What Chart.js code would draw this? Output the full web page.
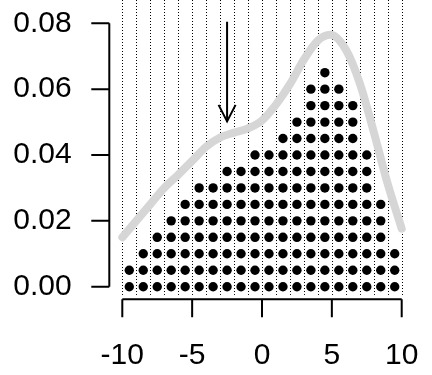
<!DOCTYPE html>
<html>
<head>
<meta charset="utf-8">
<script src="https://cdn.jsdelivr.net/npm/chart.js@4.4.1/dist/chart.umd.min.js"></script>
<style>
  html, body { margin: 0; padding: 0; background: #fff; }
  canvas { display: block; }
</style>
</head>
<body>
<canvas id="dotChart" width="432" height="375"></canvas>
<script>
// ── DATA ──────────────────────────────────────────────────────
// stacked dots, one column per unit bin
const binCenters = [-9.5, -8.5, -7.5, -6.5, -5.5, -4.5, -3.5, -2.5, -1.5, -0.5,
                     0.5,  1.5,  2.5,  3.5,  4.5,  5.5,  6.5,  7.5,  8.5,  9.5];
const binCounts  = [2, 3, 4, 5, 6, 7, 7, 8, 8, 9, 9, 10, 11, 13, 14, 13, 12, 9, 6, 3];
const dotStep = 0.005; // density carried by one dot

// smooth density curve
const densityX = [-10, -9, -8, -7, -6, -5, -4, -3, -2, -1, 0,
                   1, 2, 3, 4, 4.9, 6, 7, 8, 9, 10];
const densityY = [0.0150, 0.0200, 0.0250, 0.0300, 0.0340, 0.0382, 0.0425, 0.0453, 0.0468, 0.0481, 0.0505,
                  0.0553, 0.0615, 0.0690, 0.0748, 0.0765, 0.0720, 0.0618, 0.0470, 0.0312, 0.0176];

// arrow marking the centre
const arrowX = -2.5;
const arrowY = [0.0805, 0.0502];

// dotted bin boundaries
const gridX = [-10, -9, -8, -7, -6, -5, -4, -3, -2, -1, 0, 1, 2, 3, 4, 5, 6, 7, 8, 9, 10];

const xTicks = [-10, -5, 0, 5, 10];
const yTicks = [0, 0.02, 0.04, 0.06, 0.08];

// ── BUILD POINTS ──────────────────────────────────────────────
const dots = [];
binCenters.forEach((x, i) => {
  for (let k = 0; k < binCounts[i]; k++) dots.push({ x: x, y: k * dotStep });
});
const curve = densityX.map((x, i) => ({ x: x, y: densityY[i] }));
const arrow = arrowY.map(y => ({ x: arrowX, y: y }));

const FONT = { family: "'Liberation Sans', Arial, sans-serif", size: 30 };

// tick padding would otherwise be added to the layout padding
function noPad(s) {
  s.paddingLeft = s.paddingRight = s.paddingTop = s.paddingBottom = 0;
}

// ── R-STYLE DECORATIONS ───────────────────────────────────────
const decor = {
  id: "decor",
  beforeDatasetsDraw(chart) {
    const { ctx, scales: { x, y } } = chart;
    const yBottom = y.getPixelForValue(-0.0025);
    ctx.save();
    ctx.strokeStyle = "#000";
    ctx.lineWidth = 1;
    ctx.setLineDash([1, 2]);
    gridX.forEach(v => {
      const px = Math.round(x.getPixelForValue(v)) + 0.5;
      ctx.beginPath();
      ctx.moveTo(px, 0);
      ctx.lineTo(px, yBottom);
      ctx.stroke();
    });
    ctx.restore();
  },
  afterDatasetsDraw(chart) {
    // arrow head at the lower end
    const { ctx, scales: { x, y } } = chart;
    const tx = x.getPixelForValue(arrowX);
    const ty = y.getPixelForValue(arrowY[1]);
    ctx.save();
    ctx.strokeStyle = "#000";
    ctx.lineWidth = 2;
    ctx.beginPath();
    ctx.moveTo(tx - 8.5, ty - 16.5);
    ctx.lineTo(tx, ty);
    ctx.lineTo(tx + 8.5, ty - 16.5);
    ctx.stroke();
    ctx.restore();
  },
  afterDraw(chart) {
    const { ctx, chartArea: a, scales: { x, y } } = chart;
    ctx.save();
    ctx.strokeStyle = "#000";
    ctx.lineWidth = 2;
    ctx.lineCap = "butt";
    // y axis
    const ax = a.left - 13;
    ctx.beginPath();
    ctx.moveTo(ax, y.getPixelForValue(yTicks[0]));
    ctx.lineTo(ax, y.getPixelForValue(yTicks[yTicks.length - 1]));
    yTicks.forEach(v => {
      const py = y.getPixelForValue(v);
      ctx.moveTo(ax, py);
      ctx.lineTo(ax - 18, py);
    });
    ctx.stroke();
    // x axis
    const ay = a.bottom + 12.5;
    ctx.beginPath();
    ctx.moveTo(x.getPixelForValue(xTicks[0]), ay);
    ctx.lineTo(x.getPixelForValue(xTicks[xTicks.length - 1]), ay);
    xTicks.forEach(v => {
      const px = x.getPixelForValue(v);
      ctx.moveTo(px, ay);
      ctx.lineTo(px, ay + 18);
    });
    ctx.stroke();
    ctx.restore();
  },
};

new Chart(document.getElementById("dotChart").getContext("2d"), {
  type: "scatter",
  data: {
    datasets: [
      {
        label: "arrow",
        type: "line",
        data: arrow,
        borderColor: "#000",
        borderWidth: 2,
        pointRadius: 0,
        clip: false,
        order: 0,
      },
      {
        label: "density",
        type: "line",
        data: curve,
        borderColor: "#d6d6d6",
        borderWidth: 8,
        borderCapStyle: "round",
        borderJoinStyle: "round",
        cubicInterpolationMode: "monotone",
        pointRadius: 0,
        clip: false,
        order: 1,
      },
      {
        label: "dots",
        data: dots,
        backgroundColor: "#000",
        borderWidth: 0,
        pointRadius: 4.7,
        pointHoverRadius: 4.7,
        clip: false,
        order: 2,
      },
    ],
  },
  plugins: [decor],
  options: {
    responsive: false,
    animation: false,
    devicePixelRatio: 1,
    layout: { padding: { top: 23.3, right: 30.3, left: 0, bottom: 0 } },
    plugins: { legend: { display: false }, tooltip: { enabled: false } },
    scales: {
      x: {
        type: "linear",
        min: -10,
        max: 10,
        grid: { display: false, drawTicks: false },
        border: { display: false },
        afterFit: s => { s.height = 88.3; noPad(s); },
        afterBuildTicks: s => { s.ticks = xTicks.map(v => ({ value: v })); },
        ticks: { font: FONT, color: "#000", padding: 51, maxRotation: 0, autoSkip: false },
      },
      y: {
        type: "linear",
        min: 0,
        max: 0.08,
        grid: { display: false, drawTicks: false },
        border: { display: false },
        afterFit: s => { s.width = 122.3; noPad(s); },
        afterBuildTicks: s => { s.ticks = yTicks.map(v => ({ value: v })); },
        ticks: {
          font: FONT, color: "#000", padding: 50.6, autoSkip: false,
          callback: v => v.toFixed(2),
        },
      },
    },
  },
});
</script>
</body>
</html>
